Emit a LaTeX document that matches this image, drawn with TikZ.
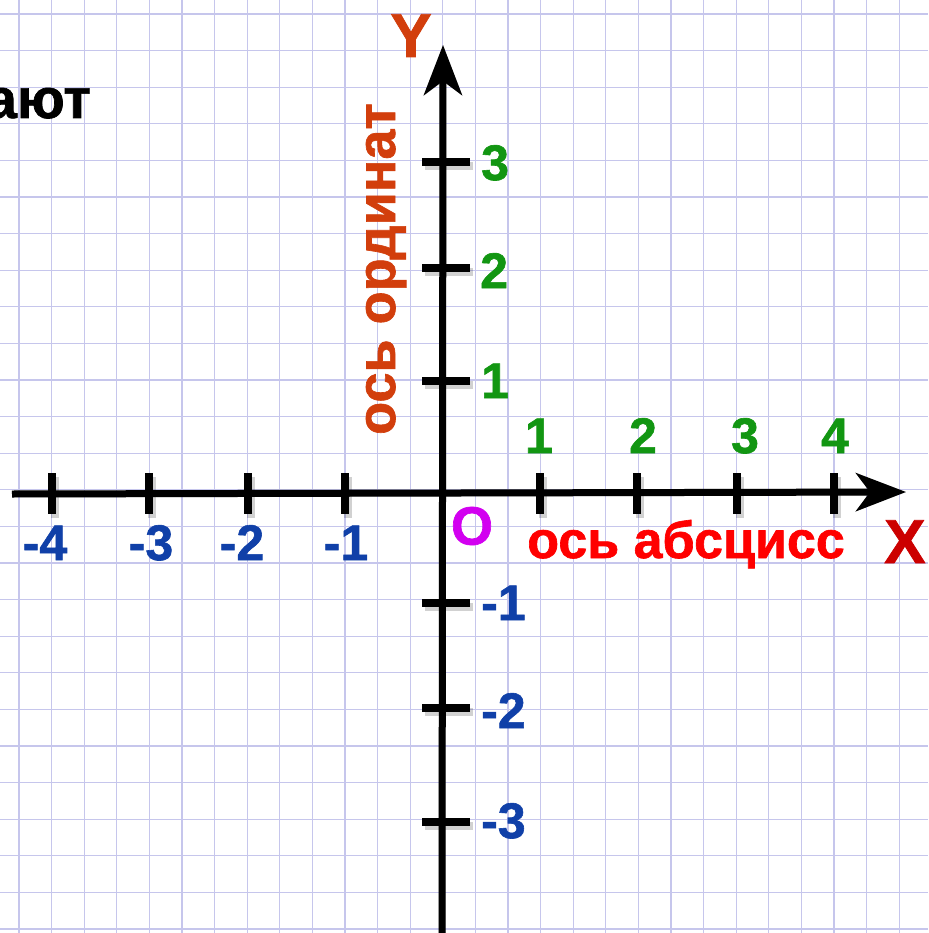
\documentclass[tikz,border=0pt]{standalone}
\usepackage{fontspec}
\setmainfont{Liberation Sans}[BoldFeatures={FakeBold=1.2}]
\usetikzlibrary{arrows.meta}
\definecolor{gridc}{RGB}{198,198,236}
\definecolor{ordc}{RGB}{210,62,12}
\definecolor{absc}{RGB}{255,0,0}
\definecolor{xc}{RGB}{204,0,0}
\definecolor{posc}{RGB}{18,150,18}
\definecolor{negc}{RGB}{16,64,168}
\definecolor{oc}{RGB}{210,0,240}
\tikzset{
  gridline/.style={draw=gridc, line width=1.3pt},
  axisline/.style={line width=7pt, -{Stealth[length=50pt, width=38pt, inset=14pt]}},
  axisshadow/.style={line width=7pt, draw=black, opacity=0.18, -{Stealth[length=50pt, width=38pt, inset=14pt]}},
  tickmark/.style={line width=7.5pt},
  tickshadow/.style={line width=7.5pt, draw=black, opacity=0.18},
  lbl/.style={font=\fontsize{50}{60}\selectfont\bfseries, inner sep=0pt},
  poslbl/.style={lbl, text=posc},
  neglbl/.style={lbl, text=negc},
  bigtxt/.style={font=\fontsize{52}{62}\selectfont\bfseries, inner sep=0pt},
}
\begin{document}
\begin{tikzpicture}[x=1pt, y=-1pt]
\useasboundingbox (0,0) rectangle (928,933);
\clip (0,0) rectangle (928,933);
\fill[white] (0,0) rectangle (928,933);
% grid
\foreach \k in {0,...,28} {\draw[gridline] ({19+32.6*\k},0) -- ({19+32.6*\k},933);}
\foreach \k in {0,...,25} {\draw[gridline] (0,{14+36.6*\k}) -- (928,{14+36.6*\k});}
% top-left text
\node[font=\fontsize{56}{66}\selectfont\bfseries, inner sep=0pt, anchor=base east] (tt) at (91,118) {ают};
% coordinates
\coordinate (xs) at (12,494);
\coordinate (xe) at (906,492);
\coordinate (ys) at (442,945);
\coordinate (ye) at (443,45);
% shadows
\begin{scope}[shift={(3,4)}]
\draw[axisshadow] (xs) -- (xe);
\draw[axisshadow] (ys) -- (ye);
\foreach \x in {52,149,248,345,540,637,737,834} {\draw[tickshadow] (\x,473) -- (\x,514);}
\foreach \y in {162,268,381,603,708,822} {\draw[tickshadow] (422,\y) -- (470,\y);}
\end{scope}
% axes
\draw[axisline] (xs) -- (xe);
\draw[axisline] (ys) -- (ye);
\foreach \x in {52,149,248,345,540,637,737,834} {\draw[tickmark] (\x,473) -- (\x,514);}
\foreach \y in {162,268,381,603,708,822} {\draw[tickmark] (422,\y) -- (470,\y);}
% x labels
\node[poslbl, anchor=base] (p1) at (539,453) {1};
\node[poslbl, anchor=base] (p2) at (643,453) {2};
\node[poslbl, anchor=base] (p3) at (745,453) {3};
\node[poslbl, anchor=base] (p4) at (835,453) {4};
\node[neglbl, anchor=base] (n4) at (45,560) {-4};
\node[neglbl, anchor=base] (n3) at (151,560) {-3};
\node[neglbl, anchor=base] (n2) at (242,560) {-2};
\node[neglbl, anchor=base] (n1) at (346,560) {-1};
% y labels
\node[poslbl, anchor=base west] (q3) at (481,180) {3};
\node[poslbl, anchor=base west] (q2) at (480,288) {2};
\node[poslbl, anchor=base west] (q1) at (481,398) {1};
\node[neglbl, anchor=base west] (m1) at (481,620) {-1};
\node[neglbl, anchor=base west] (m2) at (481,728) {-2};
\node[neglbl, anchor=base west] (m3) at (481,838) {-3};
% names
\node[font=\fontsize{54}{64}\selectfont\bfseries, inner sep=0pt, text=oc] (O) at (472,526) {O};
\node[bigtxt, text=absc, anchor=base] (abs) at (686,558) {ось абсцисс};
\node[font=\fontsize{62}{72}\selectfont\bfseries, inner sep=0pt, text=xc, anchor=base west] (X) at (884,563) {X};
\node[font=\fontsize{62}{72}\selectfont\bfseries, inner sep=0pt, text=ordc, anchor=base] (Y) at (411,57) {Y};
\node[font=\fontsize{54}{64}\selectfont\bfseries, inner sep=0pt, text=ordc, rotate=90, anchor=base] (ord) at (395,269) {ось ординат};
\end{tikzpicture}
\end{document}
